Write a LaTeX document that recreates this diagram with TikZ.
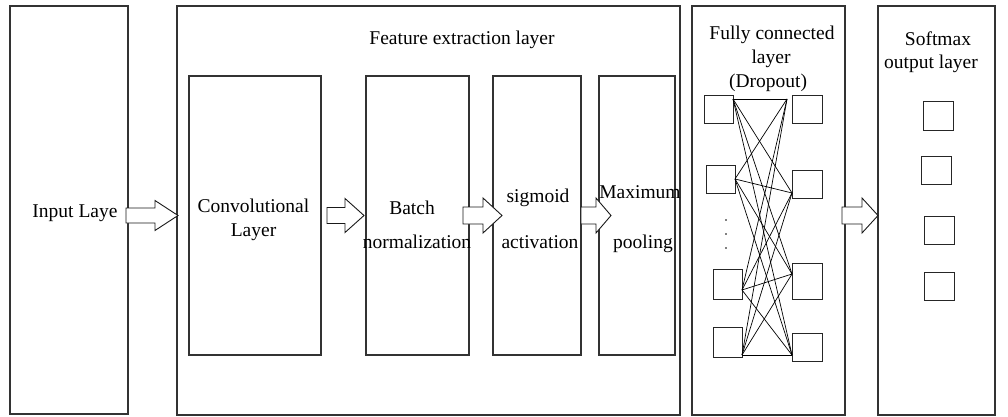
\documentclass[tikz,border=0pt]{standalone}
\usepackage{fontspec}
\setmainfont{Liberation Serif}
\usetikzlibrary{calc}

\tikzset{
  frame/.style={draw=black!80, line width=1.1pt, inner sep=0pt, outer sep=0pt},
  unit/.style={draw=black!85, line width=1pt, inner sep=0pt, outer sep=0pt},
  txt/.style={font=\fontsize{19.5}{24}\selectfont, inner sep=0pt, anchor=base},
  link/.style={draw=black, line width=0.7pt},
  blockarr/.style={draw=black!90, fill=white, line width=0.9pt, line join=miter},
}

% block arrow from #1 to the tip #2, head length #3, body half-height #4, head half-height #5
\newcommand\blockarrow[5]{%
  \path let \p1=(#1), \p2=(#2) in
    [blockarr] (\x1,\y1+#4) -- (\x2-#3,\y1+#4) -- (\x2-#3,\y1+#5) -- (\x2,\y1)
    -- (\x2-#3,\y1-#5) -- (\x2-#3,\y1-#4) -- (\x1,\y1-#4) -- cycle;}

\begin{document}
\begin{tikzpicture}[x=1pt, y=-1pt]
\useasboundingbox (0,0) rectangle (1008,417);

% outer layer frames
\node[frame, minimum width=118, minimum height=408] (inp)  at (69,210) {};
\node[frame, minimum width=503, minimum height=409] (feat) at (428.5,210.5) {};
\node[frame, minimum width=153, minimum height=409] (fc)   at (768.5,210.5) {};
\node[frame, minimum width=117, minimum height=409] (soft) at (936.5,210.5) {};

% feature extraction stages
\node[frame, minimum width=132, minimum height=279] (conv) at (255,215.5) {};
\node[frame, minimum width=103, minimum height=279] (bn)   at (417.5,215.5) {};
\node[frame, minimum width=88,  minimum height=279] (sig)  at (537,215.5) {};
\node[frame, minimum width=76,  minimum height=279] (mp)   at (637,215.5) {};

% labels
\node[txt] (inp-t) at (75,217) {Input Laye};
\node[txt] (feat-t) at (462,45) {Feature extraction layer};
\node[txt] (conv-t1) at (253.5,212) {Convolutional};
\node[txt] (conv-t2) at (253.5,236) {Layer};
\node[txt] (bn-t1) at (412,214) {Batch};
\node[txt] (bn-t2) at (417,248) {normalization};
\node[txt] (sig-t1) at (538,202) {sigmoid};
\node[txt] (sig-t2) at (540,248) {activation};
\node[txt] (mp-t1) at (640,198) {Maximum};
\node[txt] (mp-t2) at (643,248) {pooling};
\node[txt] (fc-t1) at (772,40) {Fully connected};
\node[txt] (fc-t2) at (771,64) {layer};
\node[txt] (fc-t3) at (768,88) {(Dropout)};
\node[txt] (soft-t1) at (938,46) {Softmax};
\node[txt] (soft-t2) at (931,69) {output layer};

% fully connected units
\node[unit, minimum width=29, minimum height=27] (l1) at (718.5,109.5) {};
\node[unit, minimum width=29, minimum height=28] (l2) at (720.5,179) {};
\node[unit, minimum width=29, minimum height=30] (l3) at (727.5,284) {};
\node[unit, minimum width=29, minimum height=30] (l4) at (727.5,342) {};
\node[unit, minimum width=30, minimum height=27] (r1) at (807,109.5) {};
\node[unit, minimum width=30, minimum height=28] (r2) at (807,184) {};
\node[unit, minimum width=30, minimum height=36] (r3) at (807,281) {};
\node[unit, minimum width=30, minimum height=28] (r4) at (807,347) {};

% vertical ellipsis between the left units
\foreach \yy in {220,234,248} \fill (726,\yy) circle (0.9);

% connection ports
\coordinate (p1) at ($(l1.north east)+(0,3)$);
\coordinate (p2) at (l2.east);
\coordinate (p3) at ($(l3.east)+(0,6)$);
\coordinate (p4) at ($(l4.south east)+(0,-2)$);
\coordinate (q1) at ($(r1.north west)+(-5,3)$);
\coordinate (q2) at ($(r2.south west)+(0,-5)$);
\coordinate (q3) at ($(r3.west)+(0,-7)$);
\coordinate (q4) at ($(r4.west)+(0,8)$);
\foreach \i in {1,...,4}
  \foreach \j in {1,...,4}
    \draw[link] (p\i) -- (q\j);

% softmax units
\node[unit, minimum width=30, minimum height=28] (s1) at (938,116) {};
\node[unit, minimum width=30, minimum height=28] (s2) at (936,170) {};
\node[unit, minimum width=30, minimum height=28] (s3) at (939,230) {};
\node[unit, minimum width=30, minimum height=28] (s4) at (939,286) {};

% block arrows between stages
\coordinate (a1s) at ($(inp.east |- conv.center)+(-2,0)$);
\coordinate (a1e) at ($(feat.west |- conv.center)+(1,0)$);
\coordinate (a2s) at ($(conv.east)+(6,0)$);
\coordinate (a2e) at ($(bn.west)+(-2,0)$);
\coordinate (a3s) at ($(bn.east)+(-6,0)$);
\coordinate (a3e) at ($(sig.west)+(9,0)$);
\coordinate (a4s) at (sig.east);
\coordinate (a4e) at ($(mp.west)+(12,0)$);
\coordinate (a5s) at ($(fc.east |- conv.center)+(-3,0)$);
\coordinate (a5e) at (soft.west |- conv.center);
\blockarrow{a1s}{a1e}{23pt}{7.5pt}{15pt}
\blockarrow{a2s}{a2e}{19pt}{8pt}{17pt}
\blockarrow{a3s}{a3e}{19pt}{8.5pt}{17.5pt}
\blockarrow{a4s}{a4e}{15pt}{8.5pt}{17.5pt}
\blockarrow{a5s}{a5e}{16pt}{8.5pt}{17.5pt}
\end{tikzpicture}
\end{document}
